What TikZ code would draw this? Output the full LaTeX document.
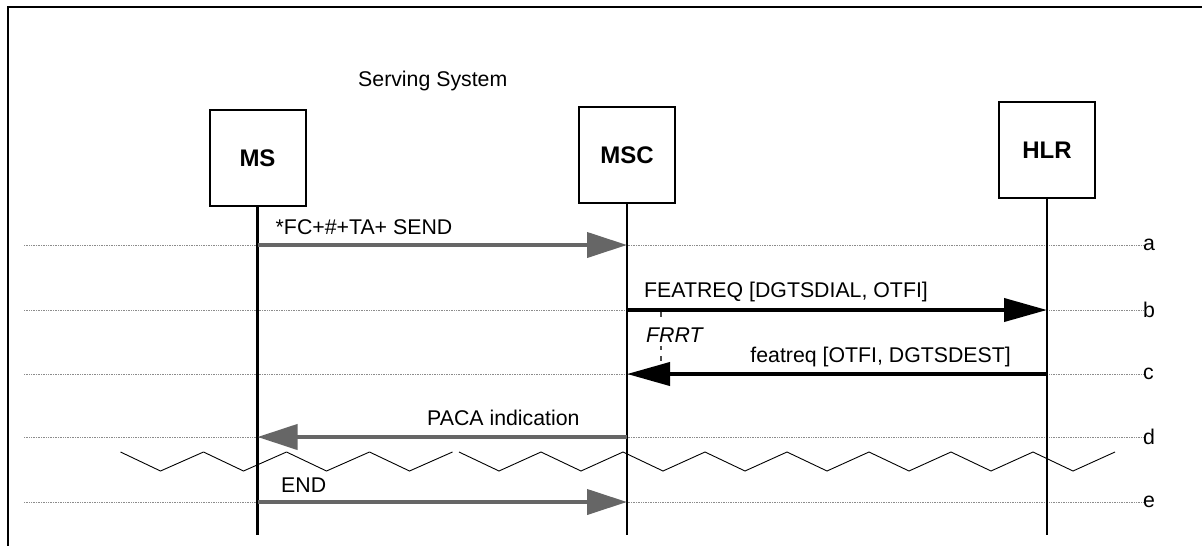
\documentclass[tikz,border=0pt]{standalone}
\usepackage{fontspec}
\setmainfont{Liberation Sans}
\usetikzlibrary{arrows.meta,positioning}

\begin{document}
\begin{tikzpicture}[x=1pt,y=-1pt]
\tikzset{EntityStyle/.style =
	{draw,
		line width = 2pt,
		minimum width = 96pt,
		minimum height = 96pt,
		font = \fontsize{24}{28}\selectfont\bfseries},
	LifeStyle/.style = {line width=2.5pt},
	GridStyle/.style = {draw=black!45, line width=0.7pt, dash pattern=on 1pt off 0.7pt},
	TextStyle/.style = {font=\fontsize{21.3}{25}\selectfont, inner sep=0pt},
	GrayMsg/.style = {draw=black!60, line width=4pt, -{Triangle[length=40pt,width=25pt]}},
	BlackMsg/.style = {draw=black, line width=4pt, -{Triangle[length=43pt,width=23pt]}}}
\useasboundingbox (0,0) rectangle (1202,546);
\draw[line width=2.7pt, line join=miter] (8,546) -- (8,7) -- (1202,7);
\node[TextStyle, anchor=base west] (serving) at (358,86) {Serving System};
% entities
\node[EntityStyle] (MS) at (257.5,158) {MS};
\node[EntityStyle] (MSC) at (627,155) {MSC};
\node[EntityStyle] (HLR) at (1047,150) {HLR};
% rows
\foreach \r/\y in {a/245,b/310,c/374,d/437,e/502}{
	\coordinate (s\r) at (24,\y);
	\node[TextStyle, anchor=west] (l\r) at (1143,\y) {\r};
	\draw[GridStyle] (s\r) -- (l\r.west);
}
\coordinate (bottom) at (0,535);
\foreach \n in {MS,MSC,HLR}
	\draw[LifeStyle] (\n.south) -- (\n |- bottom);
% timer
\draw[line width=1.2pt, black!70, dash pattern=on 5pt off 6pt] (661,312) -- (661,380);
\node[TextStyle, anchor=base west, fill=white, inner sep=4pt] (frrt) at (642,342) {\itshape FRRT};
% messages
\draw[GrayMsg] (MS |- sa) -- (MSC |- sa);
\node[TextStyle, anchor=base west] (ma) at (275.5,234) {*FC+\#+TA+ SEND};
\draw[BlackMsg] (MSC |- sb) -- (HLR |- sb);
\node[TextStyle, anchor=base west] (mb) at (644,297) {FEATREQ [DGTSDIAL, OTFI]};
\draw[BlackMsg] (HLR |- sc) -- (MSC |- sc);
\node[TextStyle, anchor=base east] (mc) at (1011,362) {featreq [OTFI, DGTSDEST]};
\draw[GrayMsg] (MSC |- sd) -- (MS |- sd);
\node[TextStyle, anchor=base west] (md) at (427,425) {PACA indication};
% break
\foreach \k in {0,...,3}
	\draw[line width=0.9pt] (120.5+83*\k,452) -- ++(40,19) -- ++(43,-19);
\foreach \k in {0,...,7}
	\draw[line width=0.9pt] (459+82*\k,452) -- ++(40,19) -- ++(42,-19);
\draw[GrayMsg] (MS |- se) -- (MSC |- se);
\node[TextStyle, anchor=base west] (me) at (281,492) {END};
\end{tikzpicture}
\end{document}
